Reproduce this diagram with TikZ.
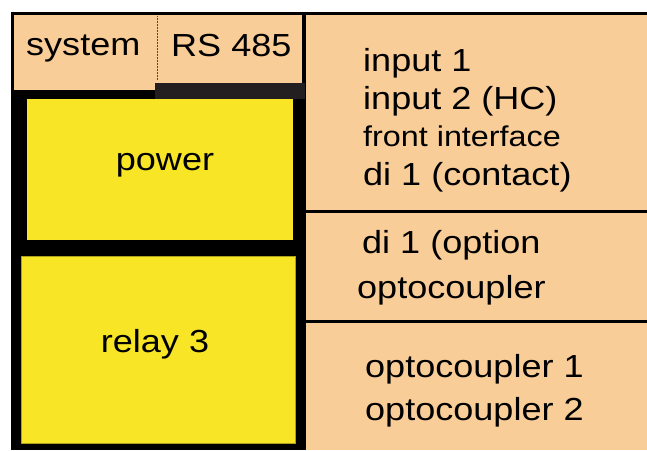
\documentclass[tikz,border=0pt]{standalone}
\usepackage{fontspec}
\setmainfont[FakeStretch=1.13]{Liberation Sans}
\definecolor{peach}{HTML}{F9CD98}
\definecolor{yel}{HTML}{F7E526}
\definecolor{darkbar}{HTML}{231F20}
\tikzset{
  lbl/.style={anchor=base west, inner sep=0pt, font=\fontsize{31.9}{36}\selectfont},
  lblc/.style={anchor=base, inner sep=0pt, font=\fontsize{31.9}{36}\selectfont},
  small/.style={anchor=base west, inner sep=0pt, font=\fontsize{28.6}{32}\selectfont},
  frame/.style={line width=3pt, draw=black},
}
\begin{document}
\begin{tikzpicture}[x=1pt,y=-1pt]
\useasboundingbox (0,0) rectangle (647,450);
% right column
\fill[peach] (304,13) rectangle (647,450);
\draw[frame] (302.5,13.5) -- (647,13.5);
\draw[frame] (304,12) -- (304,450);
\draw[frame] (304,211) -- (647,211);
\draw[frame] (304,321.5) -- (647,321.5);
% header box
\draw[frame, fill=peach] (12.5,13.5) rectangle (303.5,91.5);
\draw[black!70, densely dotted, line width=0.5pt] (157,16) -- (157,80);
% black body
\fill[black] (11,92) rectangle (305,450);
\fill[darkbar] (155,83) rectangle (305,99);
% yellow boxes
\node[fill=yel, draw=none, inner sep=0pt, minimum width=266pt, minimum height=141pt, anchor=north west] (power) at (27,99) {};
\node[fill=yel, draw=yel!70!black, line width=0.6pt, inner sep=0pt, minimum width=274pt, minimum height=187pt, anchor=north west] (relay) at (21,256) {};
% texts
\node[lbl] (system) at (26,55) {system};
\node[lbl] (rs) at (171,56) {RS 485};
\node[lblc] (powert) at (165,170) {power};
\node[lblc] (relayt) at (155,352) {relay 3};
\node[lbl] (in1) at (363,71) {input 1};
\node[lbl] (in2) at (363,109.5) {input 2 (HC)};
\node[small] (front) at (363,146) {front interface};
\node[lbl] (di1) at (363,185) {di 1 (contact)};
\node[lbl] (di1o) at (362,253) {di 1 (option};
\node[lbl] (opto) at (357,298) {optocoupler};
\node[lbl] (opto1) at (365,377) {optocoupler 1};
\node[lbl] (opto2) at (365,420) {optocoupler 2};
\end{tikzpicture}
\end{document}
